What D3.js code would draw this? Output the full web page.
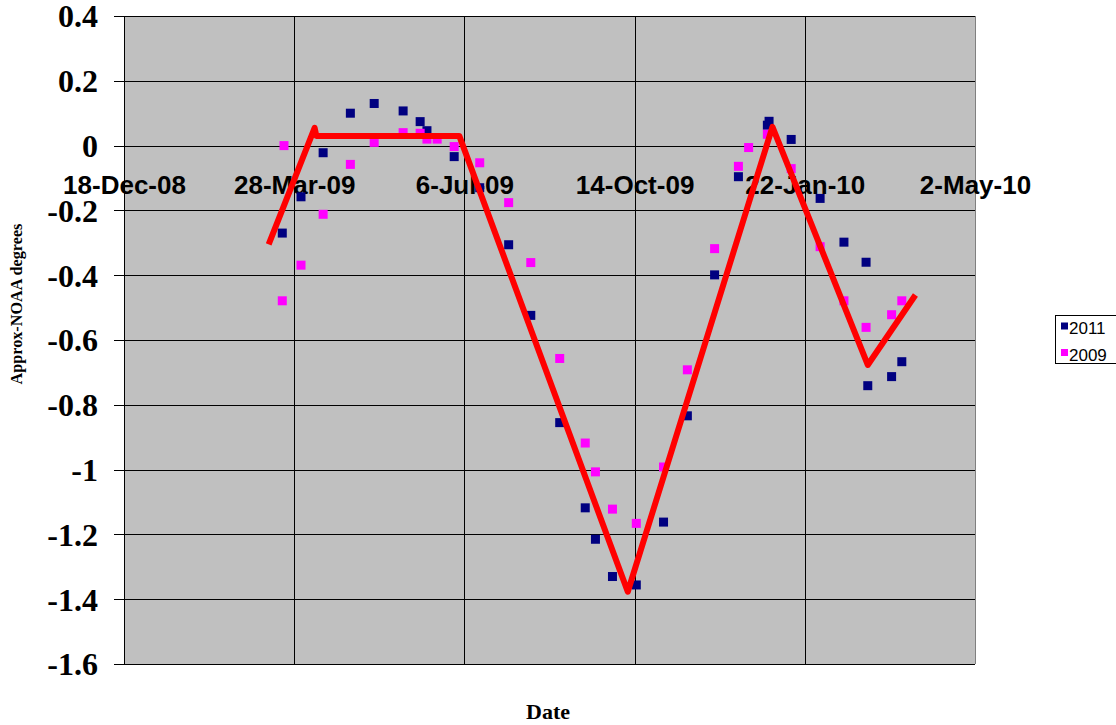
<!DOCTYPE html>
<html>
<head>
<meta charset="utf-8">
<script src="https://cdn.jsdelivr.net/npm/d3@7"></script>
<style>
  html, body { margin: 0; padding: 0; background: #ffffff; }
  svg { display: block; }
</style>
</head>
<body>
<svg id="chart" width="1116" height="725"></svg>
<script>
// ---------------- data ----------------
const xDomain = ["2008-12-18", "2010-05-02"];
const xTickDates = ["2008-12-18", "2009-03-28", "2009-07-06", "2009-10-14", "2010-01-22", "2010-05-02"];
const yTicks = [0.4, 0.2, 0, -0.2, -0.4, -0.6, -0.8, -1, -1.2, -1.4, -1.6];

const seriesNames = ["2011", "2009"];

const dates2011 = ["2009-03-21","2009-04-01","2009-04-14","2009-04-30","2009-05-14","2009-05-31","2009-06-10","2009-06-14","2009-06-30","2009-07-15",
  "2009-08-01","2009-08-14","2009-08-31","2009-09-15","2009-09-21","2009-10-01","2009-10-15","2009-10-31","2009-11-14","2009-11-30",
  "2009-12-14","2009-12-31","2010-01-01","2010-01-14","2010-01-31","2010-02-14","2010-02-27","2010-02-28","2010-03-14","2010-03-20"];
const values2011 = [-0.27,-0.158,-0.022,0.10,0.13,0.107,0.074,0.046,-0.034,-0.13,
  -0.306,-0.524,-0.855,-1.118,-1.215,-1.33,-1.356,-1.162,-0.834,-0.399,
  -0.096,0.063,0.075,0.019,-0.163,-0.298,-0.36,-0.741,-0.713,-0.667];

const dates2009 = ["2009-03-21","2009-03-22","2009-04-01","2009-04-14","2009-04-30","2009-05-14","2009-05-31","2009-06-10","2009-06-14","2009-06-20",
  "2009-06-30","2009-07-15","2009-08-01","2009-08-14","2009-08-31","2009-09-15","2009-09-21","2009-10-01","2009-10-15","2009-10-31",
  "2009-11-14","2009-11-30","2009-12-14","2009-12-20","2009-12-31","2010-01-14","2010-01-31","2010-02-14","2010-02-27","2010-03-14","2010-03-20"];
const values2009 = [-0.479,0.0,-0.369,-0.212,-0.058,0.01,0.04,0.038,0.02,0.02,
  -0.003,-0.053,-0.176,-0.361,-0.657,-0.918,-1.007,-1.122,-1.166,-0.992,
  -0.692,-0.318,-0.064,-0.006,0.035,-0.071,-0.312,-0.479,-0.561,-0.522,-0.479];

const trendDates = ["2009-03-13","2009-04-09","2009-04-10","2009-07-03","2009-10-10","2010-01-03","2010-02-28","2010-03-28"];
const trendValues = [-0.305,0.055,0.03,0.03,-1.377,0.058,-0.677,-0.461];

const seriesColors = ["#000080", "#FF00FF"];
// --------------------------------------

const parse = d3.utcParse("%Y-%m-%d");
const svg = d3.select("#chart");

const plot = { left: 124, right: 975, top: 16, bottom: 664 };

const x = d3.scaleUtc().domain(xDomain.map(parse)).range([plot.left, plot.right]);
const y = d3.scaleLinear().domain([-1.6, 0.4]).range([plot.bottom, plot.top]);

// plot background
svg.append("rect")
  .attr("x", plot.left).attr("y", plot.top)
  .attr("width", plot.right - plot.left).attr("height", plot.bottom - plot.top)
  .attr("fill", "#C0C0C0");

// horizontal gridlines
svg.append("g")
  .attr("transform", `translate(${plot.left},0)`)
  .call(d3.axisLeft(y).tickValues(yTicks).tickSize(-(plot.right - plot.left)).tickFormat(""))
  .call(g => g.select(".domain").remove())
  .call(g => g.selectAll("line").attr("stroke", "#000").attr("shape-rendering", "crispEdges"));

// vertical gridlines
svg.append("g")
  .attr("transform", `translate(0,${plot.bottom})`)
  .call(d3.axisBottom(x).tickValues(xTickDates.slice(1, -1).map(parse)).tickSize(-(plot.bottom - plot.top)).tickFormat(""))
  .call(g => g.select(".domain").remove())
  .call(g => g.selectAll("line").attr("stroke", "#000").attr("shape-rendering", "crispEdges"));

// right border
svg.append("line")
  .attr("x1", plot.right + 0.5).attr("x2", plot.right + 0.5)
  .attr("y1", plot.top).attr("y2", plot.bottom)
  .attr("stroke", "#808080");

// y axis
const yAxis = svg.append("g")
  .attr("transform", `translate(${plot.left},0)`)
  .call(d3.axisLeft(y).tickValues(yTicks).tickSize(10).tickPadding(16).tickFormat(d => String(d)));
yAxis.select(".domain").attr("stroke", "#000").attr("d", `M0.5,${plot.top}V${plot.bottom}`);
yAxis.selectAll(".tick line").attr("stroke", "#000").attr("shape-rendering", "crispEdges");
yAxis.selectAll(".tick text")
  .attr("font-family", "'Liberation Serif', 'Times New Roman', serif")
  .attr("font-weight", "bold")
  .attr("font-size", 32)
  .attr("fill", "#000")
  .attr("x", -26)
  .attr("dy", "0.34em");

// x axis (crossing at y = 0)
const xAxis = svg.append("g")
  .attr("transform", `translate(0,${y(0)})`)
  .call(d3.axisBottom(x).tickValues(xTickDates.map(parse)).tickSize(0).tickFormat(d3.utcFormat("%-d-%b-%y")));
xAxis.select(".domain").remove();
xAxis.selectAll(".tick text")
  .attr("font-family", "'Liberation Sans', Arial, sans-serif")
  .attr("font-weight", "bold")
  .attr("font-size", 26)
  .attr("fill", "#000")
  .attr("y", 48.5)
  .attr("dy", 0);

// axis titles
svg.append("text")
  .attr("x", 548).attr("y", 719)
  .attr("text-anchor", "middle")
  .attr("font-family", "'Liberation Serif', 'Times New Roman', serif")
  .attr("font-weight", "bold").attr("font-size", 22)
  .text("Date");

svg.append("text")
  .attr("transform", "translate(22,304) rotate(-90)")
  .attr("text-anchor", "middle")
  .attr("font-family", "'Liberation Serif', 'Times New Roman', serif")
  .attr("font-weight", "bold").attr("font-size", 16.2)
  .text("Approx-NOAA degrees");

// scatter series
const series = [
  { name: seriesNames[0], color: seriesColors[0], pts: dates2011.map((d, i) => ({ d: parse(d), v: values2011[i] })) },
  { name: seriesNames[1], color: seriesColors[1], pts: dates2009.map((d, i) => ({ d: parse(d), v: values2009[i] })) }
];
const ms = 9;
series.forEach(s => {
  svg.append("g").selectAll("rect").data(s.pts).join("rect")
    .attr("x", p => x(p.d) - ms / 2)
    .attr("y", p => y(p.v) - ms / 2)
    .attr("width", ms).attr("height", ms)
    .attr("fill", s.color);
});

// trend line
const trend = trendDates.map((d, i) => ({ d: parse(d), v: trendValues[i] }));
svg.append("path")
  .datum(trend)
  .attr("fill", "none")
  .attr("stroke", "#FF0000")
  .attr("stroke-width", 6)
  .attr("stroke-linejoin", "round")
  .attr("d", d3.line().x(p => x(p.d)).y(p => y(p.v)));

// legend
const lg = svg.append("g");
lg.append("rect")
  .attr("x", 1055.5).attr("y", 315.5)
  .attr("width", 80).attr("height", 48)
  .attr("fill", "#fff").attr("stroke", "#000");
series.forEach((s, i) => {
  const cy = 326 + i * 26.5;
  lg.append("rect")
    .attr("x", 1061).attr("y", cy - 3.5)
    .attr("width", 7).attr("height", 7)
    .attr("fill", s.color);
  lg.append("text")
    .attr("x", 1069).attr("y", cy + 8.3)
    .attr("font-family", "'Liberation Sans', Arial, sans-serif")
    .attr("font-size", 17)
    .attr("fill", "#000")
    .text(s.name);
});
</script>
</body>
</html>
